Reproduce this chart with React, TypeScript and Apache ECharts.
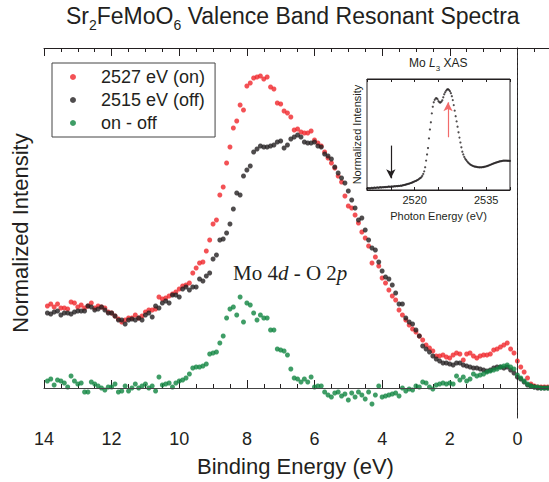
import React, { useEffect, useRef } from 'react';
import * as echarts from 'echarts';

// Binding energy grid of the measured points (eV)
const energies = [
  13.9, 13.8, 13.7, 13.6, 13.5, 13.4, 13.3, 13.2, 13.1, 13.0,
  12.9, 12.8, 12.7, 12.6, 12.5, 12.4, 12.3, 12.2, 12.1, 12.0,
  11.9, 11.8, 11.7, 11.6, 11.5, 11.4, 11.3, 11.2, 11.1, 11.0,
  10.9, 10.8, 10.7, 10.6, 10.5, 10.4, 10.3, 10.2, 10.1, 10.0,
  9.9, 9.8, 9.7, 9.6, 9.5, 9.4, 9.3, 9.2, 9.1, 9.0,
  8.9, 8.8, 8.7, 8.6, 8.5, 8.4, 8.3, 8.2, 8.1, 8.0,
  7.9, 7.8, 7.7, 7.6, 7.5, 7.4, 7.3, 7.2, 7.1, 7.0,
  6.9, 6.8, 6.7, 6.6, 6.5, 6.4, 6.3, 6.2, 6.1, 6.0,
  5.9, 5.8, 5.7, 5.6, 5.5, 5.4, 5.3, 5.2, 5.1, 5.0,
  4.9, 4.8, 4.7, 4.6, 4.5, 4.4, 4.3, 4.2, 4.1, 4.0,
  3.9, 3.8, 3.7, 3.6, 3.5, 3.4, 3.3, 3.2, 3.1, 3.0,
  2.9, 2.8, 2.7, 2.6, 2.5, 2.4, 2.3, 2.2, 2.1, 2.0,
  1.9, 1.8, 1.7, 1.6, 1.5, 1.4, 1.3, 1.2, 1.1, 1.0,
  0.9, 0.8, 0.7, 0.6, 0.5, 0.4, 0.3, 0.2, 0.1, 0.0,
  -0.1, -0.2, -0.3, -0.4, -0.5, -0.6, -0.7, -0.8, -0.9,
];

// 2527 eV (on resonance)
const onSpectrum = [
  0.82, 0.84, 0.81, 0.84, 0.80, 0.80, 0.79, 0.86, 0.85, 0.81,
  0.83, 0.80, 0.82, 0.85, 0.80, 0.82, 0.81, 0.80, 0.76, 0.75,
  0.72, 0.69, 0.66, 0.68, 0.70, 0.70, 0.73, 0.70, 0.72, 0.76,
  0.78, 0.78, 0.79, 0.91, 0.89, 0.90, 0.92, 0.94, 0.96, 0.99,
  1.02, 1.03, 1.05, 1.15, 1.20, 1.25, 1.26, 1.37, 1.48, 1.64,
  1.68, 1.93, 2.01, 2.25, 2.41, 2.60, 2.67, 2.83, 2.78, 3.02,
  3.05, 3.10, 3.11, 3.12, 3.09, 3.11, 3.01, 2.99, 2.85, 2.84,
  2.77, 2.75, 2.71, 2.58, 2.59, 2.56, 2.55, 2.55, 2.57, 2.48,
  2.45, 2.42, 2.36, 2.30, 2.25, 2.20, 2.12, 2.06, 1.92, 1.82,
  1.80, 1.73, 1.65, 1.56, 1.50, 1.42, 1.25, 1.31, 1.22, 1.10,
  1.05, 0.98, 0.92, 0.88, 0.78, 0.73, 0.68, 0.63, 0.59, 0.56,
  0.52, 0.48, 0.43, 0.40, 0.37, 0.32, 0.32, 0.33, 0.31, 0.30,
  0.33, 0.35, 0.34, 0.28, 0.34, 0.35, 0.32, 0.30, 0.32, 0.33,
  0.33, 0.34, 0.38, 0.39, 0.41, 0.43, 0.45, 0.39, 0.35, 0.27,
  0.21, 0.16, 0.10, 0.04, 0.02, 0.01, 0.01, 0.01, 0.01,
];

// 2515 eV (off resonance)
const offSpectrum = [
  0.75, 0.74, 0.76, 0.77, 0.73, 0.75, 0.75, 0.74, 0.76, 0.77,
  0.77, 0.77, 0.82, 0.81, 0.78, 0.79, 0.81, 0.78, 0.75, 0.75,
  0.72, 0.68, 0.68, 0.64, 0.68, 0.69, 0.68, 0.70, 0.68, 0.73,
  0.75, 0.71, 0.82, 0.80, 0.85, 0.87, 0.85, 0.93, 0.93, 0.91,
  0.99, 1.01, 0.98, 1.01, 1.01, 1.09, 1.07, 1.12, 1.15, 1.29,
  1.33, 1.48, 1.49, 1.55, 1.64, 1.79, 1.95, 1.93, 2.12, 2.18,
  2.22, 2.36, 2.39, 2.42, 2.41, 2.41, 2.42, 2.43, 2.46, 2.47,
  2.40, 2.43, 2.49, 2.51, 2.53, 2.51, 2.46, 2.45, 2.45, 2.46,
  2.42, 2.41, 2.34, 2.32, 2.29, 2.21, 2.15, 2.10, 2.05, 1.97,
  1.88, 1.80, 1.68, 1.70, 1.58, 1.48, 1.40, 1.38, 1.26, 1.17,
  1.11, 1.09, 1.03, 0.95, 0.84, 0.84, 0.70, 0.66, 0.64, 0.58,
  0.52, 0.42, 0.39, 0.36, 0.32, 0.29, 0.27, 0.25, 0.25, 0.24,
  0.23, 0.25, 0.25, 0.23, 0.22, 0.21, 0.20, 0.20, 0.19, 0.18,
  0.17, 0.18, 0.20, 0.21, 0.21, 0.20, 0.21, 0.18, 0.15, 0.11,
  0.09, 0.06, 0.03, 0.02, 0.01, 0.00, 0.00, 0.00, 0.00,
];

// on - off
const difference = [
  0.07, 0.09, 0.03, 0.08, 0.07, 0.05, 0.01, 0.12, 0.07, 0.04,
  0.05, -0.04, -0.04, 0.06, 0.04, 0.02, 0.00, -0.02, 0.01, 0.01,
  0.04, -0.04, -0.03, 0.02, -0.03, 0.00, 0.04, 0.00, 0.02, 0.04,
  0.00, 0.02, -0.03, 0.11, 0.03, 0.04, 0.05, 0.01, 0.05, 0.07,
  0.08, 0.10, 0.14, 0.20, 0.21, 0.21, 0.22, 0.24, 0.34, 0.35,
  0.36, 0.45, 0.52, 0.70, 0.79, 0.81, 0.73, 0.91, 0.66, 0.85,
  0.83, 0.75, 0.68, 0.73, 0.70, 0.70, 0.58, 0.58, 0.39, 0.38,
  0.37, 0.33, 0.19, 0.10, 0.09, 0.06, 0.09, 0.06, 0.11, 0.01,
  0.02, 0.02, -0.04, -0.07, -0.09, -0.05, -0.04, -0.08, -0.06, -0.12,
  -0.05, -0.09, -0.04, -0.07, -0.11, -0.04, -0.16, -0.07, 0.02, -0.09,
  -0.08, -0.07, -0.06, -0.05, -0.08, 0.00, -0.03, -0.01, -0.02, 0.02,
  0.01, 0.06, 0.05, 0.01, -0.01, 0.03, 0.04, 0.05, 0.04, 0.05,
  0.04, 0.12, 0.08, 0.11, 0.07, 0.09, 0.14, 0.12, 0.13, 0.14,
  0.16, 0.17, 0.18, 0.19, 0.21, 0.22, 0.23, 0.21, 0.19, 0.13,
  0.10, 0.07, 0.04, 0.02, 0.01, 0.01, 0.00, 0.00, 0.00,
];

const xTickLabels = [14, 12, 10, 8, 6, 4, 2, 0];

// Inset: Mo L3 XAS
const xasEnergy = [
  2510.0, 2510.2, 2510.4, 2510.6, 2510.8, 2511.0, 2511.2, 2511.4, 2511.6, 2511.8,
  2512.0, 2512.2, 2512.4, 2512.6, 2512.8, 2513.0, 2513.2, 2513.4, 2513.6, 2513.8,
  2514.0, 2514.2, 2514.4, 2514.6, 2514.8, 2515.0, 2515.2, 2515.4, 2515.6, 2515.8,
  2516.0, 2516.2, 2516.4, 2516.6, 2516.8, 2517.0, 2517.2, 2517.4, 2517.6, 2517.8,
  2518.0, 2518.2, 2518.4, 2518.6, 2518.8, 2519.0, 2519.2, 2519.4, 2519.6, 2519.8,
  2520.0, 2520.2, 2520.4, 2520.6, 2520.8, 2521.0, 2521.2, 2521.4, 2521.6, 2521.8,
  2522.0, 2522.2, 2522.4, 2522.6, 2522.8, 2523.0, 2523.2, 2523.4, 2523.6, 2523.8,
  2524.0, 2524.2, 2524.4, 2524.6, 2524.8, 2525.0, 2525.2, 2525.4, 2525.6, 2525.8,
  2526.0, 2526.2, 2526.4, 2526.6, 2526.8, 2527.0, 2527.2, 2527.4, 2527.6, 2527.8,
  2528.0, 2528.2, 2528.4, 2528.6, 2528.8, 2529.0, 2529.2, 2529.4, 2529.6, 2529.8,
  2530.0, 2530.2, 2530.4, 2530.6, 2530.8, 2531.0, 2531.2, 2531.4, 2531.6, 2531.8,
  2532.0, 2532.2, 2532.4, 2532.6, 2532.8, 2533.0, 2533.2, 2533.4, 2533.6, 2533.8,
  2534.0, 2534.2, 2534.4, 2534.6, 2534.8, 2535.0, 2535.2, 2535.4, 2535.6, 2535.8,
  2536.0, 2536.2, 2536.4, 2536.6, 2536.8, 2537.0, 2537.2, 2537.4, 2537.6, 2537.8,
  2538.0, 2538.2, 2538.4, 2538.6, 2538.8, 2539.0, 2539.2, 2539.4, 2539.6, 2539.8,
  2540.0,
];

const xasIntensity = [
  0.012, 0.015, 0.018, 0.014, 0.017, 0.020, 0.016, 0.019, 0.022, 0.018,
  0.021, 0.024, 0.020, 0.023, 0.025, 0.022, 0.026, 0.024, 0.027, 0.025,
  0.028, 0.026, 0.029, 0.031, 0.028, 0.030, 0.033, 0.030, 0.032, 0.035,
  0.033, 0.036, 0.034, 0.037, 0.036, 0.039, 0.038, 0.041, 0.043, 0.045,
  0.047, 0.050, 0.052, 0.055, 0.057, 0.060, 0.063, 0.066, 0.070, 0.074,
  0.078, 0.081, 0.085, 0.090, 0.096, 0.102, 0.108, 0.115, 0.128, 0.145,
  0.168, 0.205, 0.265, 0.320, 0.378, 0.465, 0.545, 0.610, 0.690, 0.750,
  0.790, 0.812, 0.825, 0.828, 0.818, 0.800, 0.790, 0.788, 0.796, 0.808,
  0.835, 0.862, 0.880, 0.895, 0.905, 0.908, 0.902, 0.890, 0.872, 0.845,
  0.810, 0.765, 0.715, 0.665, 0.618, 0.570, 0.520, 0.472, 0.428, 0.385,
  0.345, 0.320, 0.298, 0.282, 0.270, 0.258, 0.248, 0.240, 0.232, 0.226,
  0.222, 0.217, 0.214, 0.211, 0.210, 0.208, 0.206, 0.205, 0.204, 0.205,
  0.204, 0.206, 0.207, 0.209, 0.211, 0.213, 0.216, 0.219, 0.222, 0.226,
  0.229, 0.233, 0.236, 0.240, 0.243, 0.246, 0.249, 0.252, 0.254, 0.257,
  0.259, 0.261, 0.262, 0.264, 0.265, 0.264, 0.265, 0.263, 0.264, 0.262,
  0.262,
];

const xasTickLabels = [2520, 2535];
const offArrow = { energy: 2515, from: 0.40, to: 0.105 };
const onArrow = { energy: 2527, from: 0.475, to: 0.79 };

const seriesNames = ['2527 eV (on)', '2515 eV (off)', 'on - off'];

const SANS = "'Liberation Sans', Arial, Helvetica, sans-serif";
const SERIF = "'Liberation Serif', 'Times New Roman', serif";
const INK = '#231f20';
const RED = '#f0262a';
const BLACK = '#231f20';
const GREEN = '#0f8540';

const pairs = (xs: number[], ys: number[]) => xs.map((x, i) => [x, ys[i]]);

export default function App() {
  const ref = useRef<HTMLDivElement>(null);

  useEffect(() => {
    if (!ref.current) return;
    const chart = echarts.init(ref.current, null, { renderer: 'svg' });

    const mainTick = { inside: true, length: 8, lineStyle: { color: INK, width: 1 } };
    const mainMinor = { show: true, splitNumber: 4, length: 4, lineStyle: { color: INK, width: 1 } };
    const insetTick = { inside: true, length: 3, lineStyle: { color: INK, width: 1 } };

    const option: any = {
      animation: false,
      backgroundColor: '#ffffff',
      textStyle: { fontFamily: SANS },
      title: [
        {
          text: '{a|Sr}{s|2}{a|FeMoO}{s|6}{a| Valence Band Resonant Spectra}',
          left: 66,
          top: 4,
          padding: 0,
          textStyle: {
            fontWeight: 'normal',
            rich: {
              a: { fontSize: 23, fontWeight: 'normal', fontFamily: SANS, color: INK, verticalAlign: 'bottom', padding: [0, 0, 5, 0] },
              s: { fontSize: 14, fontWeight: 'normal', fontFamily: SANS, color: INK, verticalAlign: 'bottom' },
            },
          },
        },
        {
          text: '{a|Mo }{i|L}{s|3}{a| XAS}',
          left: 409,
          top: 57,
          padding: 0,
          textStyle: {
            fontWeight: 'normal',
            rich: {
              a: { fontSize: 12, fontWeight: 'normal', fontFamily: SANS, color: INK, verticalAlign: 'bottom', padding: [0, 0, 3, 0] },
              i: { fontSize: 12, fontWeight: 'normal', fontFamily: SANS, fontStyle: 'italic', color: INK, verticalAlign: 'bottom', padding: [0, 0, 3, 0] },
              s: { fontSize: 8, fontWeight: 'normal', fontFamily: SANS, color: INK, verticalAlign: 'bottom' },
            },
          },
        },
      ],
      legend: {
        data: seriesNames,
        orient: 'vertical',
        left: 52,
        top: 63,
        padding: [4, 10, 4, 18],
        itemGap: 3,
        itemWidth: 40,
        itemHeight: 6,
        icon: 'circle',
        symbolKeepAspect: true,
        borderColor: '#444',
        borderWidth: 1,
        selectedMode: false,
        textStyle: { fontSize: 18, color: INK, fontFamily: SANS, lineHeight: 20, padding: [0, 0, 0, 3] },
      },
      grid: [
        { left: 44, top: 48, width: 541, height: 370, outerBoundsMode: 'none', containLabel: false },
        { left: 367, top: 79, width: 143, height: 111, show: true, borderColor: INK, borderWidth: 1, outerBoundsMode: 'none', containLabel: false },
      ],
      xAxis: [
        {
          gridIndex: 0,
          type: 'value',
          position: 'bottom',
          min: -2,
          max: 14,
          interval: 2,
          inverse: true,
          axisLine: { show: true, lineStyle: { color: INK, width: 1 } },
          axisTick: mainTick,
          minorTick: mainMinor,
          splitLine: { show: false },
          axisLabel: {
            fontSize: 18,
            color: INK,
            margin: 12,
            fontFamily: SANS,
            formatter: (v: number) => (xTickLabels.includes(v) ? String(v) : ''),
          },
          name: 'Binding Energy (eV)',
          nameLocation: 'middle',
          nameGap: 37,
          nameTextStyle: { fontSize: 22, color: INK, fontFamily: SANS, padding: [0, 38, 0, 0] },
        },
        {
          gridIndex: 0,
          type: 'value',
          position: 'top',
          min: -2,
          max: 14,
          interval: 2,
          inverse: true,
          axisLine: { show: true, lineStyle: { color: INK, width: 1 } },
          axisTick: mainTick,
          minorTick: mainMinor,
          splitLine: { show: false },
          axisLabel: { show: false },
        },
        {
          gridIndex: 1,
          type: 'value',
          position: 'bottom',
          min: 2510,
          max: 2540,
          interval: 5,
          axisLine: { show: true, lineStyle: { color: INK, width: 1 } },
          axisTick: insetTick,
          splitLine: { show: false },
          axisLabel: {
            fontSize: 11,
            color: INK,
            margin: 4,
            fontFamily: SANS,
            formatter: (v: number) => (xasTickLabels.includes(v) ? String(v) : ''),
          },
          name: 'Photon Energy (eV)',
          nameLocation: 'middle',
          nameGap: 20,
          nameTextStyle: { fontSize: 11, color: INK, fontFamily: SANS },
        },
        {
          gridIndex: 1,
          type: 'value',
          position: 'top',
          min: 2510,
          max: 2540,
          interval: 5,
          axisLine: { show: true, lineStyle: { color: INK, width: 1 } },
          axisTick: insetTick,
          splitLine: { show: false },
          axisLabel: { show: false },
        },
      ],
      yAxis: [
        {
          gridIndex: 0,
          type: 'value',
          min: -0.3,
          max: 3.4,
          axisLine: { show: true, lineStyle: { color: INK, width: 1 } },
          axisTick: { show: false },
          axisLabel: { show: false },
          splitLine: { show: false },
          name: 'Normalized Intensity',
          nameLocation: 'middle',
          nameGap: 13,
          nameTextStyle: { fontSize: 22, color: INK, fontFamily: SANS },
        },
        {
          gridIndex: 1,
          type: 'value',
          min: 0,
          max: 1,
          axisLine: { show: false },
          axisTick: { show: false },
          axisLabel: { show: false },
          splitLine: { show: false },
          name: 'Normalized Intensity',
          nameLocation: 'middle',
          nameGap: 5,
          nameTextStyle: { fontSize: 11, color: INK, fontFamily: SANS },
        },
      ],
      graphic: [
        {
          type: 'text',
          x: 233,
          y: 273,
          silent: true,
          style: {
            text: '{n|Mo 4}{i|d}{n| - O 2}{i|p}',
            verticalAlign: 'middle',
            rich: {
              n: { fontFamily: SERIF, fontSize: 21, fill: INK },
              i: { fontFamily: SERIF, fontSize: 21, fontStyle: 'italic', fill: INK },
            },
          },
        },
      ],
      series: [
        {
          name: seriesNames[0],
          type: 'scatter',
          xAxisIndex: 0,
          yAxisIndex: 0,
          symbol: 'circle',
          symbolSize: 5,
          itemStyle: { color: RED },
          data: pairs(energies, onSpectrum),
          markLine: {
            silent: true,
            symbol: ['none', 'none'],
            label: { show: false },
            animation: false,
            lineStyle: { color: '#333', width: 1, type: [3, 2] },
            data: [{ xAxis: 0 }],
          },
        },
        {
          name: seriesNames[1],
          type: 'scatter',
          xAxisIndex: 0,
          yAxisIndex: 0,
          symbol: 'circle',
          symbolSize: 5,
          itemStyle: { color: BLACK },
          data: pairs(energies, offSpectrum),
        },
        {
          name: seriesNames[2],
          type: 'scatter',
          xAxisIndex: 0,
          yAxisIndex: 0,
          symbol: 'circle',
          symbolSize: 5,
          itemStyle: { color: GREEN },
          data: pairs(energies, difference),
          markLine: {
            silent: true,
            symbol: ['none', 'none'],
            label: { show: false },
            animation: false,
            lineStyle: { color: '#444', width: 1, type: 'solid' },
            data: [{ yAxis: 0 }],
          },
        },
        {
          name: 'Mo L3 XAS',
          type: 'scatter',
          xAxisIndex: 2,
          yAxisIndex: 1,
          symbol: 'circle',
          symbolSize: 2.2,
          itemStyle: { color: INK },
          data: pairs(xasEnergy, xasIntensity),
          markLine: {
            silent: true,
            symbol: ['none', 'arrow'],
            symbolSize: [7, 9],
            label: { show: false },
            animation: false,
            data: [
              [
                { coord: [offArrow.energy, offArrow.from], lineStyle: { color: INK, width: 1.2, type: 'solid' } },
                { coord: [offArrow.energy, offArrow.to], lineStyle: { color: INK, width: 1.2, type: 'solid' } },
              ],
              [
                { coord: [onArrow.energy, onArrow.from], lineStyle: { color: '#f26b6b', width: 1.2, type: 'solid' } },
                { coord: [onArrow.energy, onArrow.to], lineStyle: { color: '#f26b6b', width: 1.2, type: 'solid' } },
              ],
            ],
          },
        },
      ],
    };

    chart.setOption(option);
    return () => chart.dispose();
  }, []);

  return (
    <div
      ref={ref}
      style={{ position: 'fixed', left: 0, top: 0, width: 549, height: 482, background: '#ffffff' }}
    />
  );
}
